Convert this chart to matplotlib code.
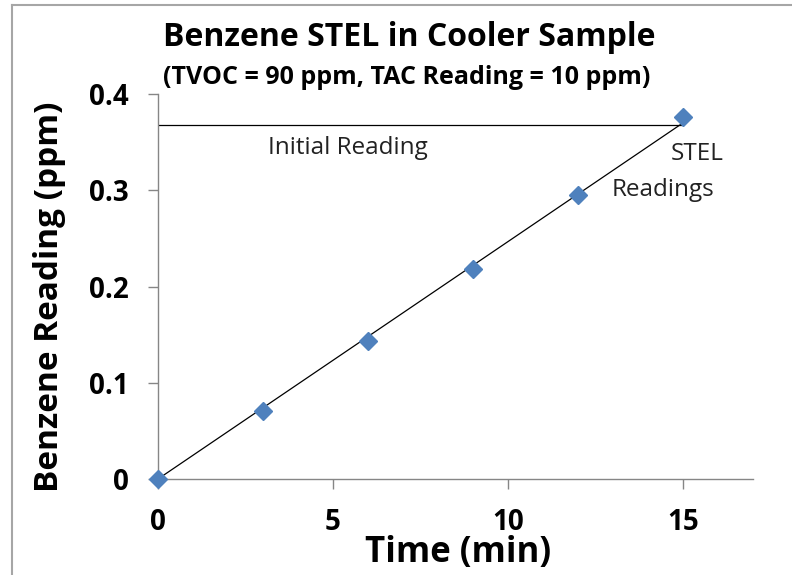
import matplotlib
matplotlib.use("Agg")
import matplotlib.pyplot as plt
from matplotlib.lines import Line2D

time_min = [0, 3, 6, 9, 12, 15]
benzene_ppm = [0.0, 0.071, 0.143, 0.218, 0.295, 0.376]
trend_x = [0, 15]
trend_y = [0.0, 0.37]
initial_x = [0, 15]
initial_y = [0.368, 0.368]
x_ticks = [0, 5, 10, 15]
y_ticks = [0, 0.1, 0.2, 0.3, 0.4]
y_tick_labels = ["0", "0.1", "0.2", "0.3", "0.4"]

plt.rcParams['font.family'] = ['Open Sans', 'DejaVu Sans']

W, H = 792, 575
fig = plt.figure(figsize=(W/100, H/100), dpi=100)
# chart area border (left and top edges visible)
fig.add_artist(Line2D([12/W, 12/W], [0, 1 - 5/H], color='#a6a6a6', linewidth=1.5))
fig.add_artist(Line2D([12/W, 1], [1 - 5/H, 1 - 5/H], color='#a6a6a6', linewidth=1.5))

ax = fig.add_axes([158/W, 1 - 479/H, (753 - 158)/W, (479 - 94)/H])

ax.plot(trend_x, trend_y, color='black', linewidth=0.9, zorder=2)
ax.plot(initial_x, initial_y, color='black', linewidth=0.9, zorder=2)
ax.plot(time_min, benzene_ppm, linestyle='none', marker='D', markersize=9.5,
        color='#4F81BD', zorder=3, clip_on=False)

ax.set_xlim(0, 17)
ax.set_ylim(0, 0.4)
ax.set_xticks(x_ticks)
ax.set_yticks(y_ticks)
ax.set_yticklabels(y_tick_labels)
for s in ['top', 'right']:
    ax.spines[s].set_visible(False)
for s in ['left', 'bottom']:
    ax.spines[s].set_color('#868686')
    ax.spines[s].set_linewidth(1.0)
ax.tick_params(axis='both', direction='out', length=7, color='#868686', width=1.0,
               labelsize=20)
ax.tick_params(axis='y', pad=14)
ax.tick_params(axis='x', pad=14)
for lab in ax.get_xticklabels() + ax.get_yticklabels():
    lab.set_fontweight('bold')

fig.text(458/W, 1 - 553/H, "Time (min)", ha='center', va='center',
         fontsize=25, fontweight='bold')
fig.text(50/W, 1 - 297/H, "Benzene Reading (ppm)", ha='center', va='center',
         rotation=90, fontsize=24, fontweight='bold')

fig.text(409/W, 1 - 38/H, "Benzene STEL in Cooler Sample", ha='center', va='center',
         fontsize=23, fontweight='bold')
fig.text(407/W, 1 - 77/H, "(TVOC = 90 ppm, TAC Reading = 10 ppm)", ha='center',
         va='center', fontsize=18, fontweight='bold')

ax.text(5.43, 0.344, "Initial Reading", ha='center', va='center', fontsize=17.5,
        color='#222222')
ax.text(15.4, 0.3377, "STEL", ha='center', va='center', fontsize=17.5, color='#222222')
ax.text(14.43, 0.300, "Readings", ha='center', va='center', fontsize=17.5, color='#222222')

fig.savefig("out.png", dpi=100)
